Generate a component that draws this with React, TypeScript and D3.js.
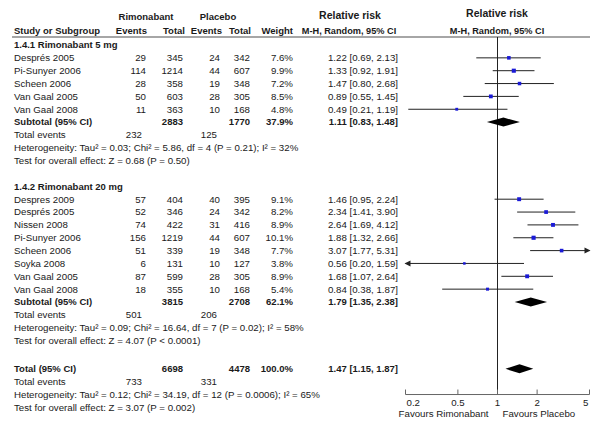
import React from "react";
import * as d3 from "d3";

// ---------- data ----------
const g1Studies = ["Després 2005", "Pi-Sunyer 2006", "Scheen 2006", "Van Gaal 2005", "Van Gaal 2008"];
const g1RimEvents = [29, 114, 28, 50, 11];
const g1RimTotal = [345, 1214, 358, 603, 363];
const g1PlaEvents = [24, 44, 19, 28, 10];
const g1PlaTotal = [342, 607, 348, 305, 168];
const g1Weight = [7.6, 9.9, 7.2, 8.5, 4.8];
const g1RR = [1.22, 1.33, 1.47, 0.89, 0.49];
const g1Lo = [0.69, 0.92, 0.8, 0.55, 0.21];
const g1Hi = [2.13, 1.91, 2.68, 1.45, 1.19];

const g2Studies = ["Despres 2009", "Després 2005", "Nissen 2008", "Pi-Sunyer 2006", "Scheen 2006", "Soyka 2008", "Van Gaal 2005", "Van Gaal 2008"];
const g2RimEvents = [57, 52, 74, 156, 51, 6, 87, 18];
const g2RimTotal = [404, 346, 422, 1219, 339, 131, 599, 355];
const g2PlaEvents = [40, 24, 31, 44, 19, 10, 28, 10];
const g2PlaTotal = [395, 342, 416, 607, 348, 127, 305, 168];
const g2Weight = [9.1, 8.2, 8.9, 10.1, 7.7, 3.8, 8.9, 5.4];
const g2RR = [1.46, 2.34, 2.64, 1.88, 3.07, 0.56, 1.68, 0.84];
const g2Lo = [0.95, 1.41, 1.69, 1.32, 1.77, 0.2, 1.07, 0.38];
const g2Hi = [2.24, 3.9, 4.12, 2.66, 5.31, 1.59, 2.64, 1.87];

const groupTitles = ["1.4.1 Rimonabant 5 mg", "1.4.2 Rimonabant 20 mg"];
const summaryLabels = ["Subtotal (95% CI)", "Subtotal (95% CI)", "Total (95% CI)"];
const summaryRimTotal = [2883, 3815, 6698];
const summaryPlaTotal = [1770, 2708, 4478];
const summaryWeight = [37.9, 62.1, 100.0];
const summaryRR = [1.11, 1.79, 1.47];
const summaryLo = [0.83, 1.35, 1.15];
const summaryHi = [1.48, 2.38, 1.87];
const summaryRimEvents = [232, 501, 733];
const summaryPlaEvents = [125, 206, 331];
const heterogeneityText = [
  "Heterogeneity: Tau² = 0.03; Chi² = 5.86, df = 4 (P = 0.21); I² = 32%",
  "Heterogeneity: Tau² = 0.09; Chi² = 16.64, df = 7 (P = 0.02); I² = 58%",
  "Heterogeneity: Tau² = 0.12; Chi² = 34.19, df = 12 (P = 0.0006); I² = 65%",
];
const overallEffectText = [
  "Test for overall effect: Z = 0.68 (P = 0.50)",
  "Test for overall effect: Z = 4.07 (P < 0.0001)",
  "Test for overall effect: Z = 3.07 (P = 0.002)",
];
const axisTicks = [0.2, 0.5, 1, 2, 5];
const axisTickLabels = ["0.2", "0.5", "1", "2", "5"];
const favoursLeft = "Favours Rimonabant";
const favoursRight = "Favours Placebo";

// ---------- layout ----------
const W = 600;
const H = 424;
const FONT = "'Liberation Sans', Arial, sans-serif";
const TXT = "#1a1a1a";
const FS = 9.7;
const FSB = 9.5;

const x = d3.scaleLog().domain([0.2, 5]).range([405.5, 589.5]);
const y = d3.scaleLinear().domain([0, 1]).range([45, 57.85]);

const COL = {
  study: 14,
  rimEv: 146,
  rimTot: 183,
  plaEv: 220,
  plaTot: 250,
  weight: 293,
  rr: 398,
  totEvRim: 142,
  totEvPla: 217,
};

const f2 = d3.format(".2f");
const f1 = d3.format(".1f");

type Study = {
  name: string; re: number; rt: number; pe: number; pt: number; w: number; rr: number; lo: number; hi: number;
};

const mk = (names: string[], re: number[], rt: number[], pe: number[], pt: number[], w: number[], rr: number[], lo: number[], hi: number[]): Study[] =>
  names.map((n, i) => ({ name: n, re: re[i], rt: rt[i], pe: pe[i], pt: pt[i], w: w[i], rr: rr[i], lo: lo[i], hi: hi[i] }));

const groups = [
  mk(g1Studies, g1RimEvents, g1RimTotal, g1PlaEvents, g1PlaTotal, g1Weight, g1RR, g1Lo, g1Hi),
  mk(g2Studies, g2RimEvents, g2RimTotal, g2PlaEvents, g2PlaTotal, g2Weight, g2RR, g2Lo, g2Hi),
];

const T = (props: any) => (
  <text fontFamily={FONT} fontSize={FS} fill={TXT} dy="0.35em" {...props} />
);
const B = (props: any) => (
  <text fontFamily={FONT} fontSize={FSB} fill={TXT} fontWeight="bold" dy="0.35em" {...props} />
);

function StudyRow({ s, yy }: { s: Study; yy: number }) {
  const [d0, d1] = x.domain();
  const lo = Math.max(s.lo, d0);
  const hi = Math.min(s.hi, d1);
  const x0 = x(lo);
  const x1 = x(hi);
  const side = 1.3 * Math.sqrt(s.w);
  const leftArrow = s.lo <= d0;
  const rightArrow = s.hi > d1;
  return (
    <g>
      <T x={COL.study} y={yy}>{s.name}</T>
      <T x={COL.rimEv} y={yy} textAnchor="end">{s.re}</T>
      <T x={COL.rimTot} y={yy} textAnchor="end">{s.rt}</T>
      <T x={COL.plaEv} y={yy} textAnchor="end">{s.pe}</T>
      <T x={COL.plaTot} y={yy} textAnchor="end">{s.pt}</T>
      <T x={COL.weight} y={yy} textAnchor="end">{f1(s.w) + "%"}</T>
      <T x={COL.rr} y={yy} textAnchor="end">{`${f2(s.rr)} [${f2(s.lo)}, ${f2(s.hi)}]`}</T>
      <line x1={x0} x2={x1} y1={yy} y2={yy} stroke="#222" strokeWidth={1} />
      {leftArrow && <path d={`M${x0 - 1},${yy} l6,-3 l0,6 z`} fill="#222" />}
      {rightArrow && <path d={`M${x1 + 1},${yy} l-6,-3 l0,6 z`} fill="#222" />}
      <rect x={x(s.rr) - side / 2} y={yy - side / 2} width={side} height={side} fill="#1a1ad6" />
    </g>
  );
}

function SummaryBlock({ i, r0 }: { i: number; r0: number }) {
  const yy = y(r0);
  const xl = x(summaryLo[i]);
  const xc = x(summaryRR[i]);
  const xh = x(summaryHi[i]);
  const hh = 4.5;
  return (
    <g>
      <B x={COL.study} y={yy}>{summaryLabels[i]}</B>
      <B x={COL.rimTot} y={yy} textAnchor="end">{summaryRimTotal[i]}</B>
      <B x={COL.plaTot} y={yy} textAnchor="end">{summaryPlaTotal[i]}</B>
      <B x={COL.weight} y={yy} textAnchor="end">{f1(summaryWeight[i]) + "%"}</B>
      <B x={COL.rr} y={yy} textAnchor="end">{`${f2(summaryRR[i])} [${f2(summaryLo[i])}, ${f2(summaryHi[i])}]`}</B>
      <path d={`M${xl},${yy} L${xc},${yy - hh} L${xh},${yy} L${xc},${yy + hh} Z`} fill="#000" />
      <T x={COL.study} y={y(r0 + 1)}>Total events</T>
      <T x={COL.totEvRim} y={y(r0 + 1)} textAnchor="end">{summaryRimEvents[i]}</T>
      <T x={COL.totEvPla} y={y(r0 + 1)} textAnchor="end">{summaryPlaEvents[i]}</T>
      <T x={COL.study} y={y(r0 + 2)}>{heterogeneityText[i]}</T>
      <T x={COL.study} y={y(r0 + 3)}>{overallEffectText[i]}</T>
    </g>
  );
}

export default function App() {
  // row indices
  const g1Start = 0;
  const g2Start = g1Start + groups[0].length + 6;
  const totalRow = g2Start + groups[1].length + 6.2;
  const axisY = y(totalRow + 2);
  const lineTop = 37;

  return (
    <svg width={W} height={H} viewBox={`0 0 ${W} ${H}`} style={{ position: "absolute", left: 0, top: 0, background: "#fff" }}>
      <rect width={W} height={H} fill="#fff" />
      {/* headers */}
      <B x={146} y={17} textAnchor="middle">Rimonabant</B>
      <B x={218} y={17} textAnchor="middle">Placebo</B>
      <B x={COL.study} y={31}>Study or Subgroup</B>
      <B x={COL.rimEv + 1} y={31} textAnchor="end">Events</B>
      <B x={COL.rimTot + 2} y={31} textAnchor="end">Total</B>
      <B x={COL.plaEv + 2} y={31} textAnchor="end">Events</B>
      <B x={COL.plaTot + 1} y={31} textAnchor="end">Total</B>
      <B x={COL.weight} y={31} textAnchor="end">Weight</B>
      <B x={350} y={15.5} textAnchor="middle" fontSize={10.5}>Relative risk</B>
      <B x={349} y={31} textAnchor="middle" fontSize={9.2}>M-H, Random, 95% CI</B>
      <B x={497} y={13.5} textAnchor="middle" fontSize={10.5}>Relative risk</B>
      <B x={497} y={31} textAnchor="middle" fontSize={9.2}>M-H, Random, 95% CI</B>
      <line x1={12} x2={590} y1={lineTop} y2={lineTop} stroke="#888" strokeWidth={1.5} />

      {/* vertical reference line */}
      <line x1={x(1)} x2={x(1)} y1={lineTop} y2={axisY} stroke="#222" strokeWidth={1} />

      {/* group 1 */}
      <B x={COL.study} y={y(g1Start)}>{groupTitles[0]}</B>
      {groups[0].map((s, i) => (
        <StudyRow key={"a" + i} s={s} yy={y(g1Start + 1 + i)} />
      ))}
      <SummaryBlock i={0} r0={g1Start + 1 + groups[0].length} />

      {/* group 2 */}
      <B x={COL.study} y={y(g2Start)}>{groupTitles[1]}</B>
      {groups[1].map((s, i) => (
        <StudyRow key={"b" + i} s={s} yy={y(g2Start + 1 + i)} />
      ))}
      <SummaryBlock i={1} r0={g2Start + 1 + groups[1].length} />

      {/* total */}
      <SummaryBlock i={2} r0={totalRow} />

      {/* axis */}
      <line x1={x(0.2)} x2={x(5)} y1={axisY} y2={axisY} stroke="#666" strokeWidth={1} />
      {axisTicks.map((t, i) => (
        <g key={"t" + i}>
          <line x1={x(t)} x2={x(t)} y1={axisY} y2={axisY - 5} stroke="#666" strokeWidth={1} />
          <T
            x={i === 0 ? x(t) + 1 : i === axisTicks.length - 1 ? x(t) - 1 : x(t)}
            y={axisY + 8}
            textAnchor={i === 0 ? "start" : i === axisTicks.length - 1 ? "end" : "middle"}
          >
            {axisTickLabels[i]}
          </T>
        </g>
      ))}
      <T x={x(1) - 9} y={axisY + 19} textAnchor="end">{favoursLeft}</T>
      <T x={x(1) + 5} y={axisY + 19} textAnchor="start">{favoursRight}</T>
    </svg>
  );
}
